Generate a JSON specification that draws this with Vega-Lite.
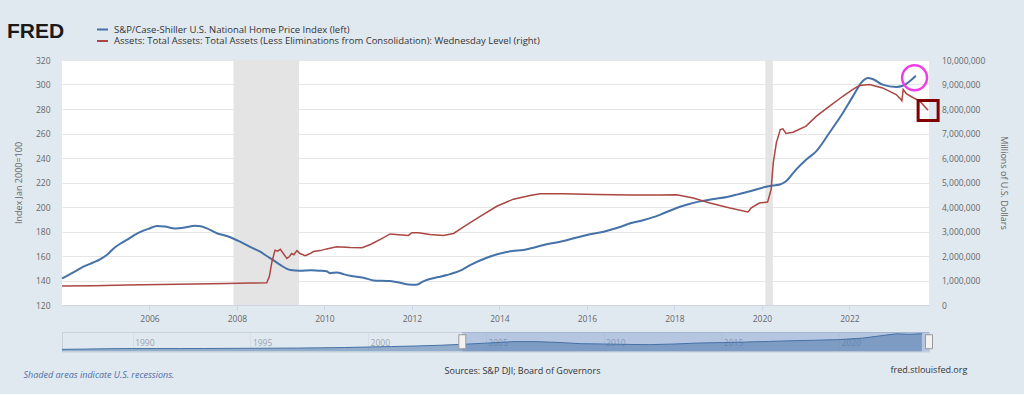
{
  "$schema": "https://vega.github.io/schema/vega-lite/v6.json",
  "background": "#e1e9f0",
  "padding": {"left": 7, "top": 21, "right": 17, "bottom": 14},
  "config": {
    "font": "Open Sans",
    "view": {"stroke": null},
    "axis": {"labelFont": "Open Sans", "titleFont": "Open Sans", "labelColor": "#666666", "titleColor": "#666666", "labelFontSize": 8.5, "titleFontSize": 9, "titleFontWeight": "normal"},
    "legend": {"orient": "none", "legendX": 34, "legendY": -37, "direction": "vertical", "symbolType": "stroke", "symbolStrokeWidth": 2, "symbolSize": 121, "labelFont": "Open Sans", "labelFontSize": 9.5, "labelColor": "#333333", "labelLimit": 1000, "labelOffset": 5, "rowPadding": 0.5, "padding": 0}
  },
  "datasets": {
    "recessions": [
      {"year": 2007.92, "year_end": 2009.42},
      {"year": 2020.08, "year_end": 2020.25}
    ],
    "hpi": [
      {"year": 2004.0, "value": 141.7}, {"year": 2004.25, "value": 146.5}, {"year": 2004.49, "value": 151.3}, {"year": 2004.7, "value": 154.5},
      {"year": 2004.87, "value": 157.3}, {"year": 2005.03, "value": 161.0}, {"year": 2005.18, "value": 166.2}, {"year": 2005.33, "value": 170.0},
      {"year": 2005.48, "value": 173.1}, {"year": 2005.67, "value": 177.5}, {"year": 2005.86, "value": 180.7}, {"year": 2006.0, "value": 182.5},
      {"year": 2006.17, "value": 184.5}, {"year": 2006.35, "value": 184.0}, {"year": 2006.59, "value": 182.5}, {"year": 2006.8, "value": 183.2},
      {"year": 2007.04, "value": 184.7}, {"year": 2007.17, "value": 184.3}, {"year": 2007.31, "value": 182.5}, {"year": 2007.54, "value": 178.6},
      {"year": 2007.77, "value": 176.3}, {"year": 2007.9, "value": 174.5}, {"year": 2008.07, "value": 171.7}, {"year": 2008.3, "value": 167.5},
      {"year": 2008.53, "value": 163.5}, {"year": 2008.68, "value": 160.0}, {"year": 2008.83, "value": 156.7}, {"year": 2009.0, "value": 152.5},
      {"year": 2009.22, "value": 148.6}, {"year": 2009.44, "value": 148.0}, {"year": 2009.7, "value": 148.3}, {"year": 2009.9, "value": 148.0},
      {"year": 2010.05, "value": 147.6}, {"year": 2010.13, "value": 146.0}, {"year": 2010.28, "value": 146.6}, {"year": 2010.45, "value": 145.0},
      {"year": 2010.59, "value": 143.8}, {"year": 2010.89, "value": 142.3}, {"year": 2011.12, "value": 140.1}, {"year": 2011.5, "value": 139.6},
      {"year": 2011.73, "value": 138.2}, {"year": 2011.92, "value": 136.8}, {"year": 2012.1, "value": 136.6}, {"year": 2012.26, "value": 139.3},
      {"year": 2012.41, "value": 141.2}, {"year": 2012.6, "value": 142.8}, {"year": 2012.8, "value": 144.5}, {"year": 2013.1, "value": 148.0},
      {"year": 2013.33, "value": 152.6}, {"year": 2013.71, "value": 158.6}, {"year": 2014.09, "value": 162.7}, {"year": 2014.3, "value": 164.0},
      {"year": 2014.55, "value": 164.9}, {"year": 2014.8, "value": 167.0}, {"year": 2015.01, "value": 169.0}, {"year": 2015.46, "value": 172.2},
      {"year": 2015.7, "value": 174.5}, {"year": 2016.0, "value": 177.1}, {"year": 2016.38, "value": 179.8}, {"year": 2016.7, "value": 183.0},
      {"year": 2016.99, "value": 186.7}, {"year": 2017.3, "value": 189.4}, {"year": 2017.5, "value": 191.5}, {"year": 2017.68, "value": 193.8},
      {"year": 2018.05, "value": 199.2}, {"year": 2018.3, "value": 202.0}, {"year": 2018.58, "value": 204.6}, {"year": 2018.9, "value": 206.5},
      {"year": 2019.2, "value": 208.2}, {"year": 2019.45, "value": 210.3}, {"year": 2019.73, "value": 212.8}, {"year": 2020.07, "value": 216.3},
      {"year": 2020.25, "value": 217.5}, {"year": 2020.41, "value": 218.3}, {"year": 2020.55, "value": 221.0}, {"year": 2020.78, "value": 230.5},
      {"year": 2021.01, "value": 238.6}, {"year": 2021.24, "value": 245.4}, {"year": 2021.54, "value": 260.4}, {"year": 2021.85, "value": 276.7},
      {"year": 2022.08, "value": 290.3}, {"year": 2022.3, "value": 302.6}, {"year": 2022.42, "value": 305.3}, {"year": 2022.53, "value": 304.5},
      {"year": 2022.76, "value": 299.9}, {"year": 2023.07, "value": 298.0}, {"year": 2023.22, "value": 299.0}, {"year": 2023.52, "value": 307.2}
    ],
    "hpi_mark": [{"year": 2023.49, "value": 305.5}],
    "assets": [
      {"year": 2004.0, "value": 776000}, {"year": 2004.72, "value": 790000}, {"year": 2005.5, "value": 815000}, {"year": 2006.24, "value": 840000},
      {"year": 2007.0, "value": 860000}, {"year": 2007.77, "value": 880000}, {"year": 2008.3, "value": 895000}, {"year": 2008.68, "value": 910000},
      {"year": 2008.74, "value": 1160000}, {"year": 2008.8, "value": 1770000}, {"year": 2008.87, "value": 2240000}, {"year": 2008.93, "value": 2200000},
      {"year": 2008.99, "value": 2270000}, {"year": 2009.06, "value": 2100000}, {"year": 2009.14, "value": 1900000}, {"year": 2009.2, "value": 1980000},
      {"year": 2009.25, "value": 2100000}, {"year": 2009.3, "value": 2050000}, {"year": 2009.37, "value": 2220000}, {"year": 2009.44, "value": 2100000},
      {"year": 2009.56, "value": 2010000}, {"year": 2009.65, "value": 2080000}, {"year": 2009.75, "value": 2180000}, {"year": 2009.9, "value": 2220000},
      {"year": 2010.05, "value": 2290000}, {"year": 2010.28, "value": 2380000}, {"year": 2010.59, "value": 2350000}, {"year": 2010.86, "value": 2340000},
      {"year": 2011.05, "value": 2470000}, {"year": 2011.3, "value": 2700000}, {"year": 2011.5, "value": 2900000}, {"year": 2011.7, "value": 2870000},
      {"year": 2011.92, "value": 2840000}, {"year": 2012.0, "value": 2950000}, {"year": 2012.15, "value": 2950000}, {"year": 2012.41, "value": 2880000},
      {"year": 2012.72, "value": 2840000}, {"year": 2012.95, "value": 2920000}, {"year": 2013.18, "value": 3190000}, {"year": 2013.56, "value": 3620000},
      {"year": 2013.94, "value": 4030000}, {"year": 2014.32, "value": 4320000}, {"year": 2014.7, "value": 4470000}, {"year": 2014.93, "value": 4540000},
      {"year": 2015.46, "value": 4540000}, {"year": 2016.23, "value": 4510000}, {"year": 2016.99, "value": 4490000}, {"year": 2017.67, "value": 4490000},
      {"year": 2018.05, "value": 4500000}, {"year": 2018.43, "value": 4370000}, {"year": 2018.81, "value": 4160000}, {"year": 2019.27, "value": 3960000},
      {"year": 2019.68, "value": 3800000}, {"year": 2019.72, "value": 3880000}, {"year": 2019.75, "value": 3960000}, {"year": 2019.94, "value": 4160000},
      {"year": 2020.13, "value": 4200000}, {"year": 2020.21, "value": 4710000}, {"year": 2020.26, "value": 5800000}, {"year": 2020.33, "value": 6620000},
      {"year": 2020.42, "value": 7160000}, {"year": 2020.48, "value": 7190000}, {"year": 2020.55, "value": 7000000}, {"year": 2020.71, "value": 7050000},
      {"year": 2021.01, "value": 7300000}, {"year": 2021.24, "value": 7700000}, {"year": 2021.54, "value": 8110000}, {"year": 2021.85, "value": 8520000},
      {"year": 2022.08, "value": 8800000}, {"year": 2022.23, "value": 8960000}, {"year": 2022.46, "value": 9000000}, {"year": 2022.76, "value": 8860000},
      {"year": 2023.07, "value": 8590000}, {"year": 2023.18, "value": 8390000}, {"year": 2023.2, "value": 8340000}, {"year": 2023.23, "value": 8800000},
      {"year": 2023.3, "value": 8630000}, {"year": 2023.46, "value": 8460000}, {"year": 2023.61, "value": 8320000}, {"year": 2023.8, "value": 7950000}
    ],
    "assets_mark": [{"year": 2023.8, "value": 7940000}],
    "selection": [{"year": 2004.0, "year_end": 2023.82}],
    "handles": [{"year": 2004.0}, {"year": 2023.82}],
    "nav": [
      {"year": 1987.0, "value": 63.7}, {"year": 1988.0, "value": 68.0}, {"year": 1989.0, "value": 73.5}, {"year": 1990.0, "value": 76.5},
      {"year": 1991.0, "value": 75.8}, {"year": 1992.0, "value": 75.8}, {"year": 1993.0, "value": 76.5}, {"year": 1994.0, "value": 78.5},
      {"year": 1995.0, "value": 80.3}, {"year": 1996.0, "value": 81.8}, {"year": 1997.0, "value": 83.5}, {"year": 1998.0, "value": 87.0},
      {"year": 1999.0, "value": 92.0}, {"year": 2000.0, "value": 100.0}, {"year": 2001.0, "value": 107.5}, {"year": 2002.0, "value": 115.5},
      {"year": 2003.0, "value": 126.5}, {"year": 2004.0, "value": 141.7}, {"year": 2005.0, "value": 160.0}, {"year": 2006.2, "value": 184.5},
      {"year": 2007.0, "value": 184.5}, {"year": 2008.0, "value": 172.5}, {"year": 2009.0, "value": 152.0}, {"year": 2010.0, "value": 147.0},
      {"year": 2011.0, "value": 140.5}, {"year": 2012.0, "value": 136.8}, {"year": 2013.0, "value": 146.5}, {"year": 2014.0, "value": 162.0},
      {"year": 2015.0, "value": 169.0}, {"year": 2016.0, "value": 177.0}, {"year": 2017.0, "value": 186.7}, {"year": 2018.0, "value": 198.0},
      {"year": 2019.0, "value": 205.5}, {"year": 2020.0, "value": 215.5}, {"year": 2021.0, "value": 238.6}, {"year": 2022.0, "value": 286.0},
      {"year": 2022.42, "value": 305.3}, {"year": 2023.0, "value": 298.0}, {"year": 2023.52, "value": 307.2}
    ]
  },
  "spacing": 27,
  "bounds": "flush",
  "vconcat": [
    {
      "width": 867,
      "height": 245,
      "view": {"fill": "white", "stroke": null},
      "title": {"text": "FRED", "anchor": "start", "frame": "group", "dx": -55, "dy": 1, "offset": 15, "font": "Liberation Sans", "fontSize": 21, "fontWeight": 900, "color": "#1a1a1a"},
      "encoding": {
        "x": {
          "field": "year", "type": "quantitative",
          "scale": {"domain": [2004, 2023.82], "nice": false, "zero": false},
          "axis": {"values": [2006, 2008, 2010, 2012, 2014, 2016, 2018, 2020, 2022], "format": "d", "grid": false, "tickSize": 5, "tickColor": "#ccd6eb", "domainColor": "#ccd6eb", "labelPadding": 4, "labelFlush": false,
            "title": "fred.stlouisfed.org", "titleX": 828, "titleY": 64.7, "titleAlign": "left", "titleBaseline": "middle", "titleColor": "#333333", "titleFontSize": 9}
        }
      },
      "layer": [
        {"data": {"name": "recessions"}, "mark": {"type": "rect", "color": "#e4e4e4"}, "encoding": {"x2": {"field": "year_end"}}},
        {
          "encoding": {
            "y": {"field": "value", "type": "quantitative", "scale": {"domain": [120, 320], "nice": false, "zero": false},
              "axis": {"orient": "left", "values": [120, 140, 160, 180, 200, 220, 240, 260, 280, 300, 320], "grid": true, "gridColor": "#e6e6e6", "tickSize": 0, "domain": false, "labelPadding": 12, "title": "Index Jan 2000=100", "titlePadding": 12}}
          },
          "layer": [
            {"data": {"name": "hpi"}, "mark": {"type": "line", "strokeWidth": 2, "interpolate": "monotone"},
              "encoding": {"color": {"datum": "S&P/Case-Shiller U.S. National Home Price Index (left)", "type": "nominal",
                "scale": {"domain": ["S&P/Case-Shiller U.S. National Home Price Index (left)", "Assets: Total Assets: Total Assets (Less Eliminations from Consolidation): Wednesday Level (right)"], "range": ["#4572a7", "#aa4643"]},
                "legend": {"title": null}}}},
            {"data": {"name": "hpi_mark"}, "mark": {"type": "point", "shape": "circle", "size": 620, "filled": false, "stroke": "#ee3ee8", "strokeWidth": 2.5, "opacity": 1}}
          ]
        },
        {
          "encoding": {
            "y": {"field": "value", "type": "quantitative", "scale": {"domain": [0, 10000000], "nice": false},
              "axis": {"orient": "right", "values": [0, 1000000, 2000000, 3000000, 4000000, 5000000, 6000000, 7000000, 8000000, 9000000, 10000000], "format": ",d", "grid": false, "tickSize": 0, "domain": false, "labelPadding": 12.5, "title": "Millions of U.S. Dollars", "titlePadding": 14}}
          },
          "layer": [
            {"data": {"name": "assets"}, "mark": {"type": "line", "strokeWidth": 1.5},
              "encoding": {"color": {"datum": "Assets: Total Assets: Total Assets (Less Eliminations from Consolidation): Wednesday Level (right)", "type": "nominal"}}},
            {"data": {"name": "assets_mark"}, "mark": {"type": "point", "shape": "square", "size": 400, "filled": false, "stroke": "#800000", "strokeWidth": 3, "opacity": 1}}
          ]
        }
      ],
      "resolve": {"scale": {"y": "independent"}}
    },
    {
      "width": 867,
      "height": 19.5,
      "view": {"stroke": "#c8d0da", "strokeWidth": 1},
      "encoding": {
        "x": {
          "field": "year", "type": "quantitative",
          "scale": {"domain": [1987, 2023.82], "nice": false, "zero": false},
          "axis": {"values": [1990, 1995, 2000, 2005, 2010, 2015, 2020], "format": "d", "grid": true, "gridColor": "#d6dde6", "domain": false, "ticks": false, "labelAlign": "left", "labelBaseline": "middle", "labelPadding": -9, "labelOffset": 2, "labelColor": "#9aa3b0", "labelFontSize": 8.5, "labelFlush": false,
            "title": "Sources: S&P DJI; Board of Governors", "titleX": 460, "titleY": 18.5, "titleAlign": "center", "titleBaseline": "middle", "titleColor": "#333333", "titleFontSize": 9}
        }
      },
      "layer": [
        {"data": {"name": "selection"}, "mark": {"type": "rect", "color": "#6685c2", "opacity": 0.35}, "encoding": {"x2": {"field": "year_end"}}},
        {"data": {"name": "nav"}, "mark": {"type": "area", "color": "#4572a7", "opacity": 0.5, "clip": true, "line": {"color": "#4572a7", "strokeWidth": 1}},
          "encoding": {"y": {"field": "value", "type": "quantitative", "stack": null, "scale": {"domain": [30, 334], "nice": false, "zero": false},
            "axis": {"orient": "left", "labels": false, "ticks": false, "domain": false, "grid": false, "title": "Shaded areas indicate U.S. recessions.", "titleAngle": 0, "titleAlign": "left", "titleBaseline": "middle", "titleX": -39, "titleY": 42, "titleFontStyle": "italic", "titleColor": "#4a6da7", "titleFontSize": 9}}}},
        {"data": {"name": "handles"}, "mark": {"type": "point", "shape": "M-0.5,-1L0.5,-1L0.5,1L-0.5,1Z", "size": 196, "filled": true, "fill": "#f2f2f2", "stroke": "#999999", "strokeWidth": 1, "opacity": 1}}
      ]
    }
  ]
}
